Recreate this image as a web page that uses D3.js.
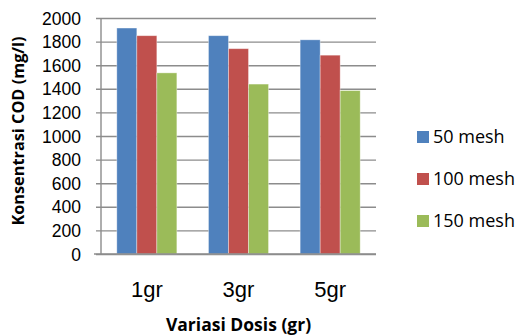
<!DOCTYPE html>
<html>
<head>
<meta charset="utf-8">
<script src="https://cdn.jsdelivr.net/npm/d3@7"></script>
<style>
  html, body { margin: 0; padding: 0; background: #fff; }
  svg { display: block; font-family: "Open Sans", "Liberation Sans", sans-serif; }
</style>
</head>
<body>
<svg id="chart" width="519" height="336"></svg>
<script>
// Dose variations on the x axis
const doses = ["1gr", "3gr", "5gr"];
// Adsorbent mesh sizes (one bar per series in each group)
const meshes = ["50 mesh", "100 mesh", "150 mesh"];
// COD concentration (mg/l) for each mesh size, per dose
const cod50 = [1915, 1850, 1815];
const cod100 = [1850, 1740, 1685];
const cod150 = [1535, 1440, 1385];
const yTicks = [0, 200, 400, 600, 800, 1000, 1200, 1400, 1600, 1800, 2000];
const colors = ["#4F81BD", "#C0504D", "#9BBB59"];

const seriesValues = [cod50, cod100, cod150];

const svg = d3.select("#chart");
const plot = { left: 101, right: 376, top: 18, bottom: 254 };

const x0 = d3.scaleBand()
  .domain(doses)
  .range([plot.left, plot.right])
  .paddingInner(0.345)
  .paddingOuter(0.1725);
const x1 = d3.scaleBand()
  .domain(meshes)
  .range([0, x0.bandwidth()]);
const y = d3.scaleLinear()
  .domain([0, 2000])
  .range([plot.bottom, plot.top]);
const color = d3.scaleOrdinal().domain(meshes).range(colors);

// Horizontal gridlines with short outward ticks on the left
const yAxis = d3.axisLeft(y)
  .tickValues(yTicks)
  .tickSize(-(plot.right - plot.left))
  .tickSizeOuter(0)
  .tickPadding(20)
  .tickFormat(d3.format("d"));
const gy = svg.append("g")
  .attr("transform", `translate(${plot.left},0)`)
  .call(yAxis);
gy.select(".domain").remove();
gy.selectAll(".tick line")
  .attr("x1", -5)
  .attr("stroke", "#8c8c8c")
  .attr("stroke-width", 1.4);
gy.selectAll(".tick text")
  .attr("fill", "#000")
  .style("font-size", "17.5px")
  .attr("dy", "0.35em");

// Vertical axis line
svg.append("line")
  .attr("x1", plot.left).attr("x2", plot.left)
  .attr("y1", y(2000)).attr("y2", y(0))
  .attr("stroke", "#8c8c8c").attr("stroke-width", 1.4);

// Bars
const groups = svg.append("g").selectAll("g")
  .data(doses)
  .join("g")
  .attr("transform", d => `translate(${x0(d)},0)`);
groups.selectAll("rect")
  .data((d, i) => meshes.map((m, s) => ({ mesh: m, value: seriesValues[s][i] })))
  .join("rect")
  .attr("x", d => x1(d.mesh))
  .attr("y", d => y(d.value))
  .attr("width", x1.bandwidth())
  .attr("height", d => y(0) - y(d.value))
  .attr("fill", d => color(d.mesh))
  .attr("stroke", "rgba(255,255,255,0.45)")
  .attr("stroke-width", 0.8);

// Category axis
const xAxis = d3.axisBottom(x0).tickSize(0).tickPadding(27);
const gx = svg.append("g")
  .attr("transform", `translate(0,${plot.bottom})`)
  .call(xAxis);
gx.select(".domain").remove();
gx.selectAll(".tick text")
  .attr("fill", "#000")
  .style("font-size", "22px");
svg.append("line")
  .attr("x1", plot.left - 7).attr("x2", plot.right)
  .attr("y1", plot.bottom).attr("y2", plot.bottom)
  .attr("stroke", "#8c8c8c").attr("stroke-width", 1.6);

// Axis titles
svg.append("text")
  .attr("x", (plot.left + plot.right) / 2)
  .attr("y", 331)
  .attr("text-anchor", "middle")
  .style("font-size", "17.5px")
  .style("font-weight", "bold")
  .text("Variasi Dosis (gr)");
svg.append("text")
  .attr("transform", "translate(24,131) rotate(-90)")
  .attr("text-anchor", "middle")
  .style("font-size", "16.3px")
  .style("font-weight", "bold")
  .text("Konsentrasi COD (mg/l)");

// Legend
const legend = svg.append("g").selectAll("g")
  .data(meshes)
  .join("g")
  .attr("transform", (d, i) => `translate(417,${137 + i * 42})`);
legend.append("rect")
  .attr("x", 0).attr("y", -6)
  .attr("width", 12).attr("height", 12)
  .attr("fill", d => color(d));
legend.append("text")
  .attr("x", 16)
  .attr("dy", "0.35em")
  .style("font-size", "18px")
  .text(d => d);
</script>
</body>
</html>
